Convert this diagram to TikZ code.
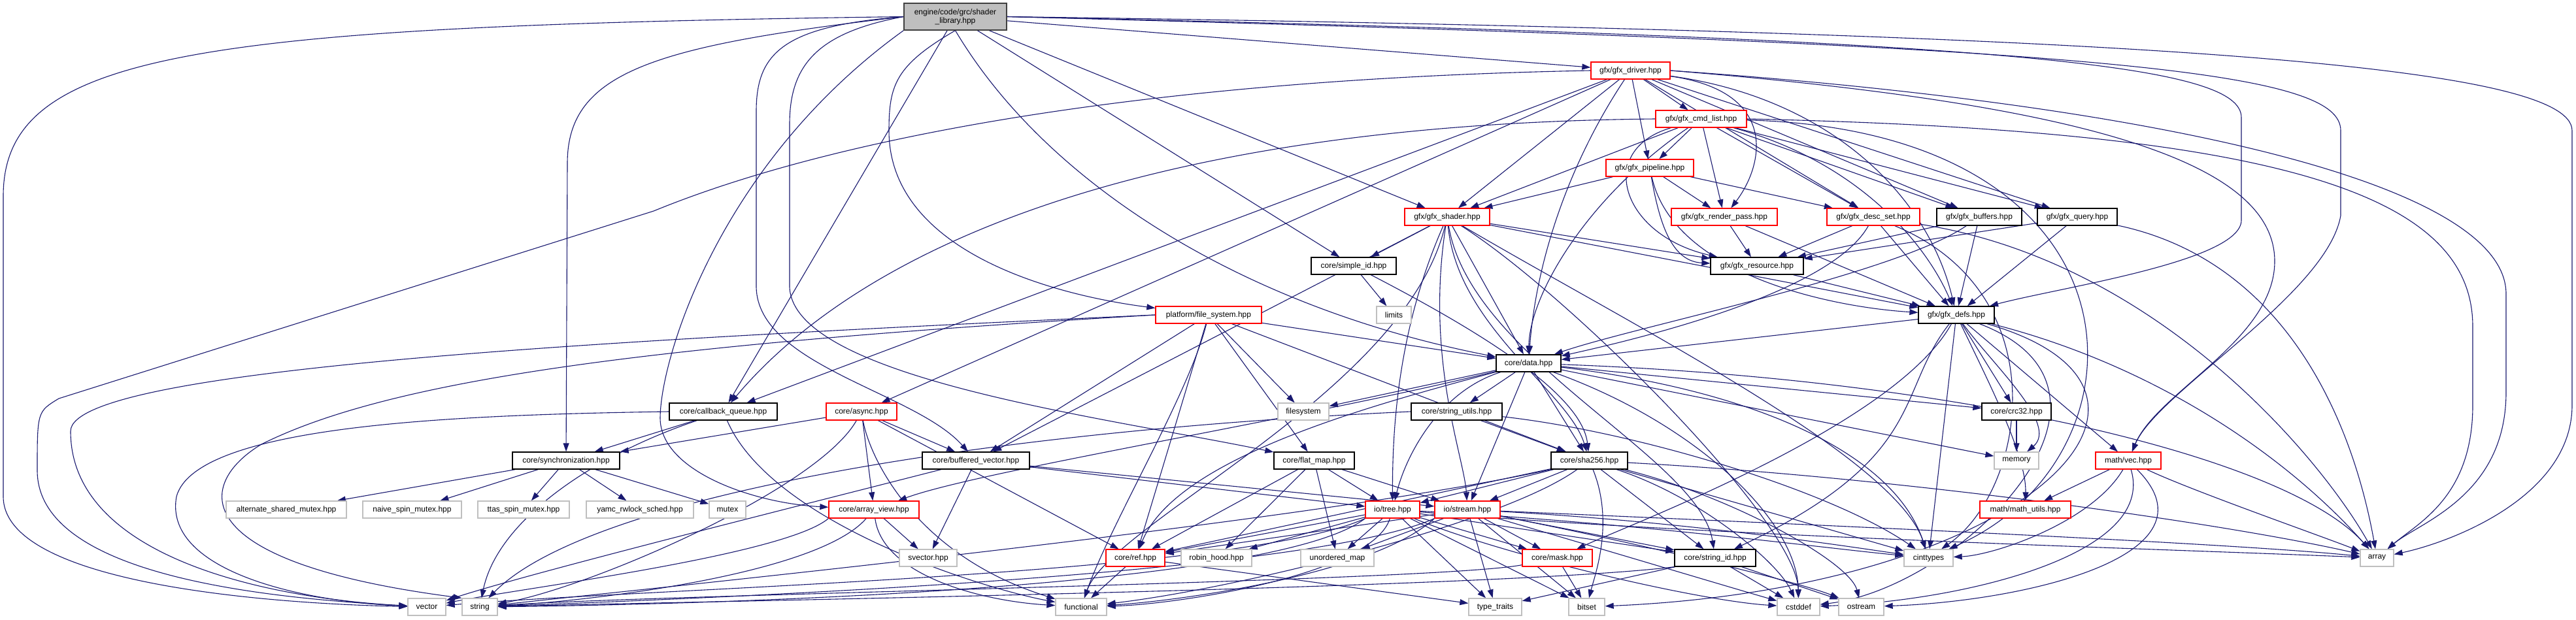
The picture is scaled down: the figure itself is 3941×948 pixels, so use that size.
\documentclass[tikz,border=0pt]{standalone}
\usepackage{fontspec}
\setmainfont{Liberation Sans}
\usetikzlibrary{arrows.meta}
\definecolor{edgec}{HTML}{191970}
\definecolor{redb}{HTML}{FF0000}
\definecolor{grayb}{HTML}{BFBFBF}
\definecolor{rootf}{HTML}{BFBFBF}
\pgfdeclarelayer{paper}
\pgfdeclarelayer{bg}
\pgfsetlayers{paper,bg,main}
\begin{document}
\begin{tikzpicture}[x=1pt,y=-1pt,
 nd/.style={rectangle, line width=1.3pt, minimum height=26pt, inner sep=1pt, font=\fontsize{12}{13}\selectfont, fill=white},
 inc/.style={nd, draw=redb},
 doc/.style={nd, draw=black},
 sys/.style={nd, draw=grayb},
 dep/.style={draw=edgec, line width=1.1pt, -{Triangle[length=13pt,width=9pt]}},
]
\useasboundingbox (0,0) rectangle (3941,948);
\begin{pgfonlayer}{paper}
\fill[white] (0,0) rectangle (3941,948);
\end{pgfonlayer}
% nodes
\node[nd, draw=black!75, fill=rootf, minimum width=157pt, minimum height=41pt, align=center] (root) at (1461.5,25.5) {engine/code/grc/shader\\\_library.hpp};
\node[inc, minimum width=121pt] (drv) at (2494.5,108) {gfx/gfx\_driver.hpp};
\node[inc, minimum width=139pt] (cmd) at (2602.5,182) {gfx/gfx\_cmd\_list.hpp};
\node[inc, minimum width=134pt] (pipe) at (2524,257) {gfx/gfx\_pipeline.hpp};
\node[inc, minimum width=130pt] (shader) at (2214,332) {gfx/gfx\_shader.hpp};
\node[inc, minimum width=162pt] (rp) at (2638,332) {gfx/gfx\_render\_pass.hpp};
\node[inc, minimum width=142pt] (desc) at (2866,332) {gfx/gfx\_desc\_set.hpp};
\node[doc, minimum width=130pt] (buf) at (3028,332) {gfx/gfx\_buffers.hpp};
\node[doc, minimum width=122pt] (query) at (3178,332) {gfx/gfx\_query.hpp};
\node[doc, minimum width=142pt] (res) at (2688,407) {gfx/gfx\_resource.hpp};
\node[doc, minimum width=130pt] (sid) at (2071,407) {core/simple\_id.hpp};
\node[sys, minimum width=53pt] (limits) at (2132.5,482) {limits};
\node[doc, minimum width=116pt] (defs) at (2993,482) {gfx/gfx\_defs.hpp};
\node[inc, minimum width=162pt] (fs) at (1849,482) {platform/file\_system.hpp};
\node[doc, minimum width=99pt] (data) at (2338.5,556) {core/data.hpp};
\node[doc, minimum width=165pt] (cbq) at (1106.5,630) {core/callback\_queue.hpp};
\node[inc, minimum width=108pt] (async) at (1318,630) {core/async.hpp};
\node[sys, minimum width=78pt] (filesystem) at (1994,630) {filesystem};
\node[doc, minimum width=139pt] (su) at (2228.5,630) {core/string\_utils.hpp};
\node[doc, minimum width=106pt] (crc) at (3085,630) {core/crc32.hpp};
\node[doc, minimum width=164pt] (sync) at (866,705) {core/synchronization.hpp};
\node[doc, minimum width=164pt] (bv) at (1493,705) {core/buffered\_vector.hpp};
\node[doc, minimum width=123pt] (fm) at (2010.5,705) {core/flat\_map.hpp};
\node[doc, minimum width=117pt] (sha) at (2431.5,705) {core/sha256.hpp};
\node[sys, minimum width=68pt] (memory) at (3085,705) {memory};
\node[inc, minimum width=100pt] (vec) at (3256,705) {math/vec.hpp};
\node[sys, minimum width=184pt] (asm) at (438,780) {alternate\_shared\_mutex.hpp};
\node[sys, minimum width=151pt] (nsm) at (630.5,780) {naive\_spin\_mutex.hpp};
\node[sys, minimum width=140pt] (tsm) at (801,780) {ttas\_spin\_mutex.hpp};
\node[sys, minimum width=164pt] (yamc) at (979,780) {yamc\_rwlock\_sched.hpp};
\node[sys, minimum width=56pt] (mutex) at (1113,780) {mutex};
\node[inc, minimum width=138pt] (av) at (1337,780) {core/array\_view.hpp};
\node[inc, minimum width=83pt] (tree) at (2130.5,780) {io/tree.hpp};
\node[inc, minimum width=100pt] (stream) at (2245,780) {io/stream.hpp};
\node[inc, minimum width=139pt] (mu) at (3098.5,780) {math/math\_utils.hpp};
\node[sys, minimum width=88pt] (svector) at (1420,854) {svector.hpp};
\node[inc, minimum width=90pt] (ref) at (1737,854) {core/ref.hpp};
\node[sys, minimum width=108pt] (rh) at (1861,854) {robin\_hood.hpp};
\node[sys, minimum width=112pt] (um) at (2046,854) {unordered\_map};
\node[inc, minimum width=107pt] (mask) at (2382.5,854) {core/mask.hpp};
\node[doc, minimum width=124pt] (strid) at (2624,854) {core/string\_id.hpp};
\node[sys, minimum width=75pt] (cint) at (2950.5,854) {cinttypes};
\node[sys, minimum width=51pt] (array) at (3636.5,854) {array};
\node[sys, minimum width=58pt] (vector) at (653,929) {vector};
\node[sys, minimum width=54pt] (string) at (734,929) {string};
\node[sys, minimum width=78pt] (functional) at (1654,929) {functional};
\node[sys, minimum width=81pt] (tt) at (2287.5,929) {type\_traits};
\node[sys, minimum width=55pt] (bitset) at (2427.5,929) {bitset};
\node[sys, minimum width=65pt] (cstddef) at (2751.5,929) {cstddef};
\node[sys, minimum width=69pt] (ostream) at (2847.5,929) {ostream};

\begin{pgfonlayer}{bg}
% root
\draw[dep] (root) -- (drv);
\draw[dep] (root) -- (shader);
\draw[dep] (root) -- (sid);
\draw[dep] (root) -- (cbq);
\draw[dep] (root.south) .. controls (1600,280) and (1900,470) .. (data);
\draw[dep] (root.south) .. controls (1370,100) and (1360,130) .. (1360,200) .. controls (1360,380) and (1600,450) .. (fs);
\draw[dep] (root.west) .. controls (1000,70) and (868,110) .. (868,250) -- (sync);
\draw[dep] (root.west) .. controls (300,40) and (5,80) .. (5,300) -- (5,760) .. controls (5,900) and (450,925) .. (vector);
\draw[dep] (root.west) .. controls (1200,40) and (1157,80) .. (1157,170) -- (1157,440) .. controls (1160,560) and (1400,600) .. (bv);
\draw[dep] (root.west) .. controls (1250,50) and (1208,100) .. (1208,190) -- (1208,440) .. controls (1215,580) and (1700,640) .. (fm);
\draw[dep] (root.south west) .. controls (1100,250) and (1010,550) .. (1010,640) .. controls (1010,720) and (1150,770) .. (av);
\draw[dep] (root.east) .. controls (3100,60) and (3429,100) .. (3429,180) -- (3429,337) .. controls (3429,400) and (3150,440) .. (defs);
\draw[dep] (root.east) .. controls (3250,70) and (3581,110) .. (3581,200) -- (3581,330) .. controls (3560,450) and (3300,600) .. (vec);
\draw[dep] (root.east) .. controls (3300,50) and (3935,100) .. (3935,200) -- (3935,620) .. controls (3935,760) and (3750,830) .. (array);
% gfx_driver
\draw[dep] (drv) -- (cmd);
\draw[dep] (drv) -- (pipe);
\draw[dep] (drv) -- (shader);
\draw[dep] (drv) .. controls (2720,140) and (2700,250) .. (rp);
\draw[dep] (drv) -- (desc);
\draw[dep] (drv) -- (buf);
\draw[dep] (drv) -- (query);
\draw[dep] (drv) .. controls (2800,150) and (2950,300) .. (defs);
\draw[dep] (drv) .. controls (2400,250) and (2350,400) .. (data);
\draw[dep] (drv) -- (cbq);
\draw[dep] (drv) -- (async);
\draw[dep] (drv.west) .. controls (1800,120) and (1300,200) .. (1000,323) -- (90,610) .. controls (57,630) .. (57,720) .. controls (57,880) and (400,915) .. (vector);
\draw[dep] (drv.east) .. controls (3200,160) and (3480,250) .. (3480,400) .. controls (3480,520) and (3300,600) .. (vec);
\draw[dep] (drv.east) .. controls (3300,160) and (3834,280) .. (3834,450) -- (3834,600) .. controls (3834,760) and (3700,800) .. (array);
% gfx_cmd_list
\draw[dep] (cmd) -- (pipe);
\draw[dep] (cmd) -- (shader);
\draw[dep] (cmd) -- (rp);
\draw[dep] (cmd) -- (desc);
\draw[dep] (cmd) -- (buf);
\draw[dep] (cmd) -- (query);
\draw[dep] (cmd) .. controls (2440,230) and (2480,360) .. (res);
\draw[dep] (cmd) .. controls (2850,250) and (2950,380) .. (defs);
\draw[dep] (cmd) .. controls (2430,300) and (2340,450) .. (data);
\draw[dep] (cmd.west) .. controls (1700,190) and (1300,400) .. (cbq);
\draw[dep] (cmd) .. controls (3300,200) and (3300,700) .. (cint);
\draw[dep] (cmd.east) .. controls (3500,200) and (3783,300) .. (3783,500) -- (3783,620) .. controls (3783,760) and (3700,800) .. (array);
% gfx_pipeline
\draw[dep] (pipe) -- (shader);
\draw[dep] (pipe) -- (rp);
\draw[dep] (pipe) -- (desc);
\draw[dep] (pipe) .. controls (2540,350) and (2560,400) .. (res);
\draw[dep] (pipe) .. controls (2560,420) and (2800,470) .. (defs);
% gfx_shader
\draw[dep] (shader) -- (sid);
\draw[dep] (shader) -- (res);
\draw[dep] (shader) -- (data);
\draw[dep] (shader) -- (bv);
\draw[dep] (shader) .. controls (2230,500) and (2400,600) .. (sha);
\draw[dep] (shader) .. controls (2250,550) and (2600,700) .. (strid);
\draw[dep] (shader) .. controls (2180,550) and (2240,700) .. (stream);
\draw[dep] (shader) .. controls (2140,500) and (2130,650) .. (tree);
\draw[dep] (shader) .. controls (2150,600) and (1700,800) .. (functional);
\draw[dep] (shader) .. controls (2500,500) and (2900,700) .. (cint);
\draw[dep] (shader) .. controls (2400,450) and (2750,800) .. (cstddef);
\draw[dep] (shader) -- (defs);
% render pass, desc set, buffers, query, resource
\draw[dep] (rp) -- (res);
\draw[dep] (rp) -- (defs);
\draw[dep] (desc) -- (res);
\draw[dep] (desc) -- (defs);
\draw[dep] (desc) .. controls (2800,450) and (2500,520) .. (data);
\draw[dep] (desc) .. controls (3150,450) and (3100,750) .. (cint);
\draw[dep] (desc) .. controls (3300,400) and (3550,700) .. (array);
\draw[dep] (buf) -- (res);
\draw[dep] (buf) -- (defs);
\draw[dep] (buf) .. controls (2900,420) and (2500,500) .. (data);
\draw[dep] (query) -- (res);
\draw[dep] (query) -- (defs);
\draw[dep] (query) .. controls (3500,400) and (3600,650) .. (array);
\draw[dep] (res) -- (defs);
% simple id
\draw[dep] (sid) -- (limits);
\draw[dep] (sid) .. controls (2250,500) and (2420,600) .. (sha);
% gfx_defs
\draw[dep] (defs) -- (data);
\draw[dep] (defs) -- (crc);
\draw[dep] (defs) .. controls (2900,600) and (2950,700) .. (strid);
\draw[dep] (defs) -- (vec);
\draw[dep] (defs) .. controls (3050,600) and (3100,700) .. (mu);
\draw[dep] (defs) .. controls (2900,650) and (2500,800) .. (mask);
\draw[dep] (defs) -- (cint);
\draw[dep] (defs) .. controls (3300,560) and (3500,700) .. (array);
\draw[dep] (defs) .. controls (3300,600) and (3000,900) .. (cstddef);
\draw[dep] (defs) .. controls (3400,600) and (3100,900) .. (bitset);
\draw[dep] (defs) .. controls (3050,560) and (3150,650) .. (memory);
% file system
\draw[dep] (fs) -- (data);
\draw[dep] (fs) -- (filesystem);
\draw[dep] (fs) -- (fm);
\draw[dep] (fs) -- (sha);
\draw[dep] (fs) -- (ref);
\draw[dep] (fs) .. controls (1820,600) and (1700,800) .. (functional);
\draw[dep] (fs) -- (bv);
\draw[dep] (fs.west) .. controls (1000,518) and (108,560) .. (108,660) .. controls (108,850) and (400,915) .. (vector);
\draw[dep] (fs.west) .. controls (1000,527) and (600,580) .. (400,680) .. controls (300,740) and (280,860) .. (string.north west);
% core data
\draw[dep] (data) -- (filesystem);
\draw[dep] (data) -- (su);
\draw[dep] (data) -- (crc);
\draw[dep] (data) -- (sha);
\draw[dep] (data) .. controls (2200,600) and (2150,700) .. (tree);
\draw[dep] (data) -- (stream);
\draw[dep] (data) .. controls (2100,620) and (1800,700) .. (ref);
\draw[dep] (data) -- (memory);
\draw[dep] (data) .. controls (2700,600) and (2900,700) .. (cint);
\draw[dep] (data) .. controls (3000,580) and (3500,700) .. (array);
\draw[dep] (data) .. controls (2600,650) and (2750,800) .. (cstddef);
\draw[dep] (data) .. controls (2000,640) and (1500,720) .. (av);
% callback queue
\draw[dep] (cbq) -- (sync);
\draw[dep] (cbq) .. controls (1180,800) and (1500,900) .. (functional);
\draw[dep] (cbq.west) .. controls (700,635) and (300,650) .. (270,760) .. controls (250,870) and (450,920) .. (vector);
\draw[dep] (cbq) .. controls (900,700) and (760,800) .. (string);
% async
\draw[dep] (async) -- (sync);
\draw[dep] (async) -- (bv);
\draw[dep] (async) -- (av);
\draw[dep] (async) -- (ref);
\draw[dep] (async) .. controls (1330,700) and (1400,850) .. (functional);
\draw[dep] (async) .. controls (1250,750) and (900,900) .. (string);
% string utils, crc
\draw[dep] (su) -- (sha);
\draw[dep] (su.west) .. controls (1500,660) and (900,760) .. (string);
\draw[dep] (su) .. controls (2500,660) and (2800,750) .. (cint);
\draw[dep] (crc) -- (memory);
% synchronization
\draw[dep] (sync) -- (asm);
\draw[dep] (sync) -- (nsm);
\draw[dep] (sync) -- (tsm);
\draw[dep] (sync) -- (yamc);
\draw[dep] (sync) -- (mutex);
% buffered vector
\draw[dep] (bv) -- (svector);
\draw[dep] (bv) -- (tree);
\draw[dep] (bv) -- (stream);
\draw[dep] (bv) .. controls (1200,780) and (800,880) .. (vector);
% flat map
\draw[dep] (fm) -- (tree);
\draw[dep] (fm) -- (stream);
\draw[dep] (fm) -- (rh);
\draw[dep] (fm) -- (um);
\draw[dep] (fm) -- (ref);
% sha256
\draw[dep] (sha) -- (tree);
\draw[dep] (sha) -- (stream);
\draw[dep] (sha) -- (ref);
\draw[dep] (sha) -- (strid);
\draw[dep] (sha) .. controls (2470,800) and (2440,880) .. (bitset);
\draw[dep] (sha) -- (cint);
\draw[dep] (sha) .. controls (2900,730) and (3400,800) .. (array);
\draw[dep] (sha) .. controls (2600,760) and (2720,860) .. (cstddef);
\draw[dep] (sha) .. controls (2650,760) and (2830,860) .. (ostream);
\draw[dep] (sha) .. controls (2300,800) and (1900,900) .. (functional);
\draw[dep] (sha.south west) .. controls (2000,800) and (1000,900) .. (string);
% math vec
\draw[dep] (vec) -- (mu);
\draw[dep] (vec) .. controls (3200,800) and (3050,850) .. (cint);
\draw[dep] (vec) .. controls (3350,750) and (3550,820) .. (array);
\draw[dep] (vec) .. controls (3300,850) and (3000,920) .. (cstddef);
\draw[dep] (vec) .. controls (3400,850) and (3100,920) .. (ostream);
% array view
\draw[dep] (av) -- (svector);
\draw[dep] (av.south west) .. controls (1200,850) and (800,900) .. (vector);
\draw[dep] (av) .. controls (1350,880) and (1500,920) .. (functional);
\draw[dep] (av) .. controls (1250,880) and (900,920) .. (string);
% io tree
\draw[dep] (tree) -- (ref);
\draw[dep] (tree) -- (rh);
\draw[dep] (tree) -- (um);
\draw[dep] (tree) -- (mask);
\draw[dep] (tree) -- (strid);
\draw[dep] (tree) .. controls (2500,800) and (2800,840) .. (cint);
\draw[dep] (tree) -- (tt);
\draw[dep] (tree) -- (bitset);
\draw[dep] (tree) .. controls (2300,850) and (2600,920) .. (cstddef);
\draw[dep] (tree.south west) .. controls (1900,880) and (1000,900) .. (vector);
\draw[dep] (tree.south west) .. controls (1950,900) and (1100,925) .. (string);
\draw[dep] (tree) .. controls (2100,880) and (1800,925) .. (functional);
\draw[dep] (tree) .. controls (2600,820) and (3300,840) .. (array);
% io stream
\draw[dep] (stream) -- (ref);
\draw[dep] (stream) -- (um);
\draw[dep] (stream) -- (mask);
\draw[dep] (stream) -- (strid);
\draw[dep] (stream) .. controls (2600,800) and (2850,840) .. (cint);
\draw[dep] (stream) -- (tt);
\draw[dep] (stream) -- (bitset);
\draw[dep] (stream) .. controls (2450,840) and (2650,900) .. (cstddef);
\draw[dep] (stream) .. controls (2500,830) and (2750,890) .. (ostream);
\draw[dep] (stream) .. controls (2700,800) and (3400,830) .. (array);
\draw[dep] (stream.south west) .. controls (2000,880) and (1100,915) .. (string);
\draw[dep] (stream.south west) .. controls (2100,880) and (1800,920) .. (functional);
% mask, string id, ref
\draw[dep] (mask) -- (bitset);
\draw[dep] (mask) .. controls (2200,890) and (1000,910) .. (string);
\draw[dep] (strid) -- (cstddef);
\draw[dep] (strid) -- (ostream);
\draw[dep] (strid) -- (tt);
\draw[dep] (strid.south west) .. controls (2300,900) and (1100,920) .. (string);
\draw[dep] (ref) -- (functional);
\draw[dep] (ref) -- (tt);
\end{pgfonlayer}
\end{tikzpicture}
\end{document}
